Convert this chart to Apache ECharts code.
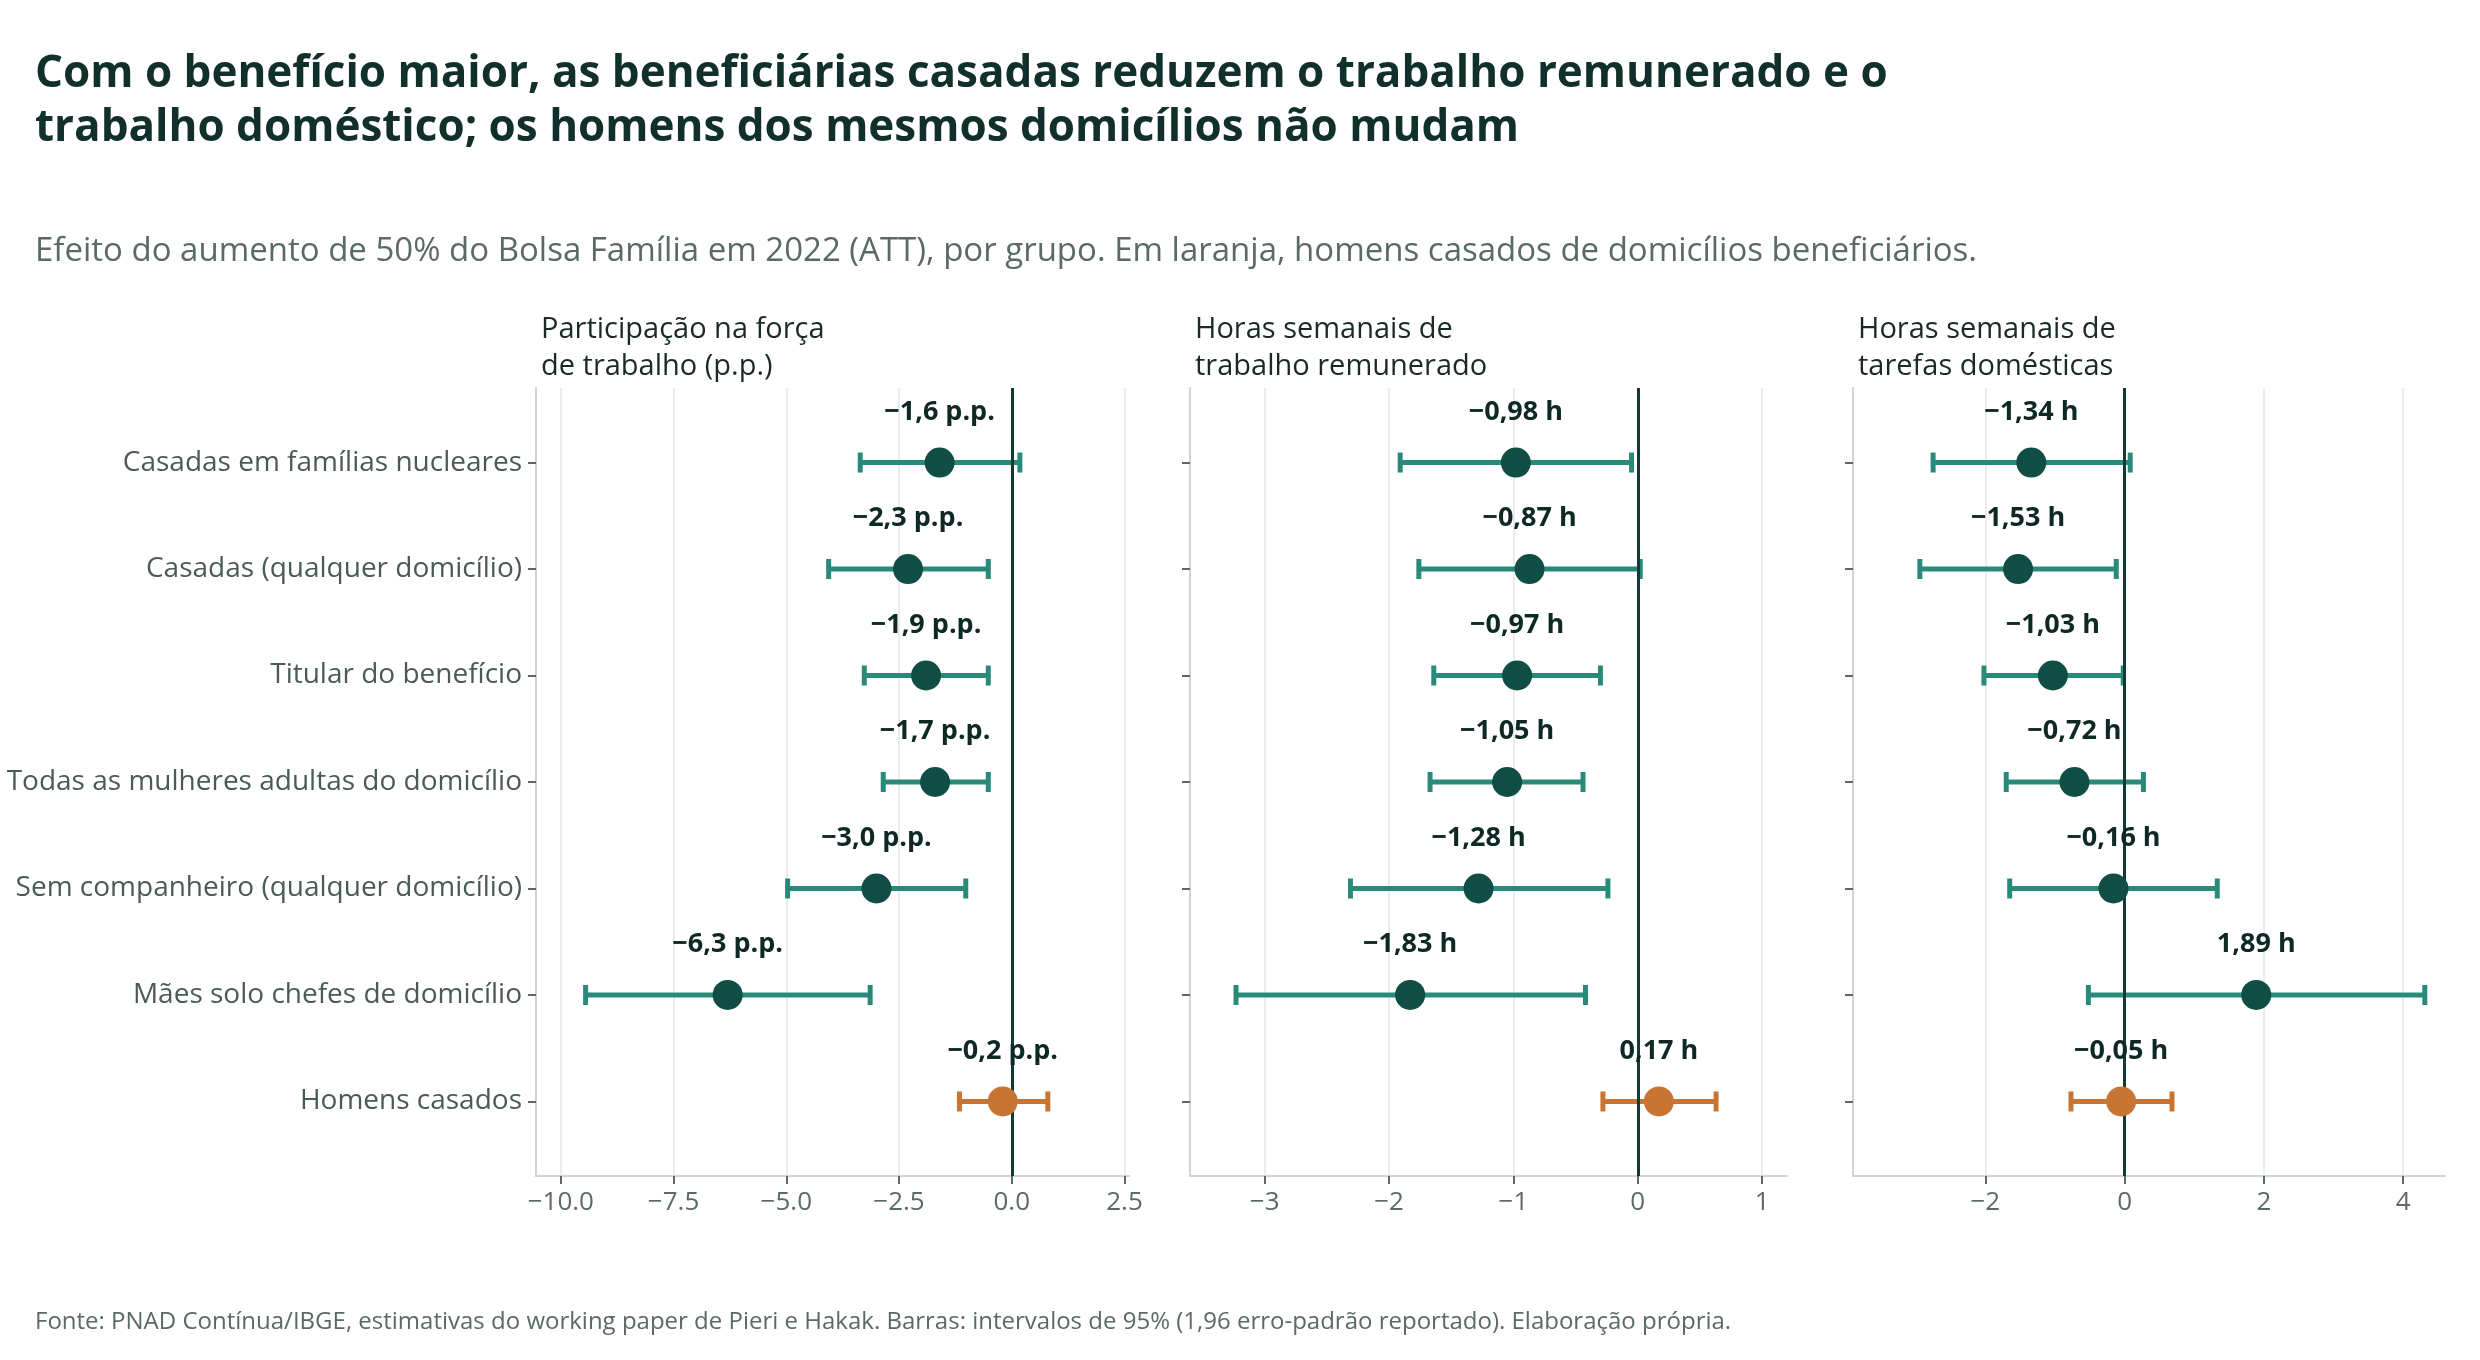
<!DOCTYPE html>
<html><head><meta charset="utf-8">
<script src="https://cdn.jsdelivr.net/npm/echarts@6/dist/echarts.min.js"></script>
<style>html,body{margin:0;background:#fff}#c{width:2480px;height:1360px}</style>
</head><body><div id="c"></div>
<script>
const categories = ["Casadas em famílias nucleares","Casadas (qualquer domicílio)","Titular do benefício","Todas as mulheres adultas do domicílio","Sem companheiro (qualquer domicílio)","Mães solo chefes de domicílio","Homens casados"];
const panelTitles = ["Participação na força\nde trabalho (p.p.)","Horas semanais de\ntrabalho remunerado","Horas semanais de\ntarefas domésticas"];
const lfpMean = [-1.6,-2.3,-1.9,-1.7,-3.0,-6.3,-0.2];
const lfpLo = [-3.36,-4.06,-3.27,-2.85,-4.97,-9.45,-1.16];
const lfpHi = [0.18,-0.52,-0.52,-0.52,-1.02,-3.14,0.80];
const hrsMean = [-0.98,-0.87,-0.97,-1.05,-1.28,-1.83,0.17];
const hrsLo = [-1.91,-1.76,-1.64,-1.67,-2.31,-3.23,-0.28];
const hrsHi = [-0.05,0.02,-0.30,-0.44,-0.24,-0.42,0.63];
const domMean = [-1.34,-1.53,-1.03,-0.72,-0.16,1.89,-0.05];
const domLo = [-2.75,-2.94,-2.02,-1.70,-1.65,-0.52,-0.77];
const domHi = [0.08,-0.12,-0.02,0.27,1.33,4.31,0.68];
const xTicks = [[-10,-7.5,-5,-2.5,0,2.5],[-3,-2,-1,0,1],[-2,0,2,4]];
const xRange = [[-10.55,2.6],[-3.6,1.2],[-3.9,4.6]];

const panels = [
  {mean:lfpMean,lo:lfpLo,hi:lfpHi,fmt:v=>(v<0?'−':'')+Math.abs(v).toFixed(1).replace('.',',')+' p.p.',tf:v=>(v<0?'−':'')+Math.abs(v).toFixed(1)},
  {mean:hrsMean,lo:hrsLo,hi:hrsHi,fmt:v=>(v<0?'−':'')+Math.abs(v).toFixed(2).replace('.',',')+' h',tf:v=>(v<0?'−':'')+Math.abs(v)},
  {mean:domMean,lo:domLo,hi:domHi,fmt:v=>(v<0?'−':'')+Math.abs(v).toFixed(2).replace('.',',')+' h',tf:v=>(v<0?'−':'')+Math.abs(v)}
];
const gridL=[536,1190,1853], gridR=[1129,1787,2445];
const DARK='#0f4d45', BAR='#2a8a7a', ORANGE='#c87533';
const grids=[],xAxes=[],yAxes=[],series=[],titles=[];
const rows=[0,1,2,3,4,5,6];
panels.forEach((p,i)=>{
  grids.push({left:gridL[i],width:gridR[i]-gridL[i],top:388,height:788});
  xAxes.push({type:'value',gridIndex:i,min:xRange[i][0],max:xRange[i][1],
    axisLine:{show:true,onZero:false,lineStyle:{color:'#d0d5d4',width:2}},
    axisTick:{show:true,customValues:xTicks[i],length:8,lineStyle:{color:'#5a6a66',width:2}},
    axisLabel:{customValues:xTicks[i],formatter:p.tf,color:'#5a6a66',fontSize:26,fontFamily:'Open Sans',margin:14},
    splitLine:{show:true,lineStyle:{color:'#ececec',width:2}}});
  yAxes.push({type:'value',gridIndex:i,min:-0.7,max:6.7,inverse:true,
    axisLine:{show:true,onZero:false,lineStyle:{color:'#d0d5d4',width:2}},
    axisTick:{show:true,customValues:rows,length:8,lineStyle:{color:'#5a6a66',width:2}},
    axisLabel:{show:i===0,customValues:rows,formatter:v=>categories[v]||'',color:'#4a5a56',fontSize:28,fontFamily:'Open Sans',margin:14},
    splitLine:{show:false}});
  titles.push({text:panelTitles[i],left:gridL[i],top:306,textStyle:{fontSize:29,fontWeight:'normal',color:'#1a2a28',fontFamily:'Open Sans',lineHeight:37}});
  series.push({type:'custom',xAxisIndex:i,yAxisIndex:i,z:2,
    data:rows.map(r=>[p.lo[r],p.hi[r],r]),
    renderItem:(params,api)=>{
      const a=api.coord([api.value(0),api.value(2)]), b=api.coord([api.value(1),api.value(2)]);
      const col=api.value(2)===6?ORANGE:BAR, st={stroke:col,lineWidth:5};
      return {type:'group',children:[
        {type:'line',shape:{x1:a[0],y1:a[1],x2:b[0],y2:b[1]},style:st},
        {type:'line',shape:{x1:a[0],y1:a[1]-10,x2:a[0],y2:a[1]+10},style:st},
        {type:'line',shape:{x1:b[0],y1:b[1]-10,x2:b[0],y2:b[1]+10},style:st}]};
    }});
  series.push({type:'scatter',xAxisIndex:i,yAxisIndex:i,z:5,symbolSize:30,
    itemStyle:{opacity:1},
    data:rows.map(r=>({value:[p.mean[r],r],itemStyle:{color:r===6?ORANGE:DARK,opacity:1}})),
    label:{show:true,position:'top',distance:22,formatter:d=>p.fmt(d.value[0]),fontSize:27,fontWeight:'bold',color:'#0e2824',fontFamily:'Open Sans'},
    markLine:{silent:true,symbol:'none',label:{show:false},lineStyle:{color:'#123a33',width:3,type:'solid'},data:[{xAxis:0}],z:3}});
});
titles.push({text:'Com o benefício maior, as beneficiárias casadas reduzem o trabalho remunerado e o\ntrabalho doméstico; os homens dos mesmos domicílios não mudam',left:30,top:42,textStyle:{fontSize:44,fontWeight:'bold',color:'#12302b',fontFamily:'Open Sans',lineHeight:54}});
titles.push({text:'Efeito do aumento de 50% do Bolsa Família em 2022 (ATT), por grupo. Em laranja, homens casados de domicílios beneficiários.',left:30,top:230,textStyle:{fontSize:33,fontWeight:'normal',color:'#5a6a66',fontFamily:'Open Sans'}});
titles.push({text:'Fonte: PNAD Contínua/IBGE, estimativas do working paper de Pieri e Hakak. Barras: intervalos de 95% (1,96 erro-padrão reportado). Elaboração própria.',left:30,top:1305,textStyle:{fontSize:24,fontWeight:'normal',color:'#5a6a66',fontFamily:'Open Sans'}});
const chart=echarts.init(document.getElementById('c'));
chart.setOption({backgroundColor:'#fff',animation:false,title:titles,grid:grids,xAxis:xAxes,yAxis:yAxes,series});
</script></body></html>
